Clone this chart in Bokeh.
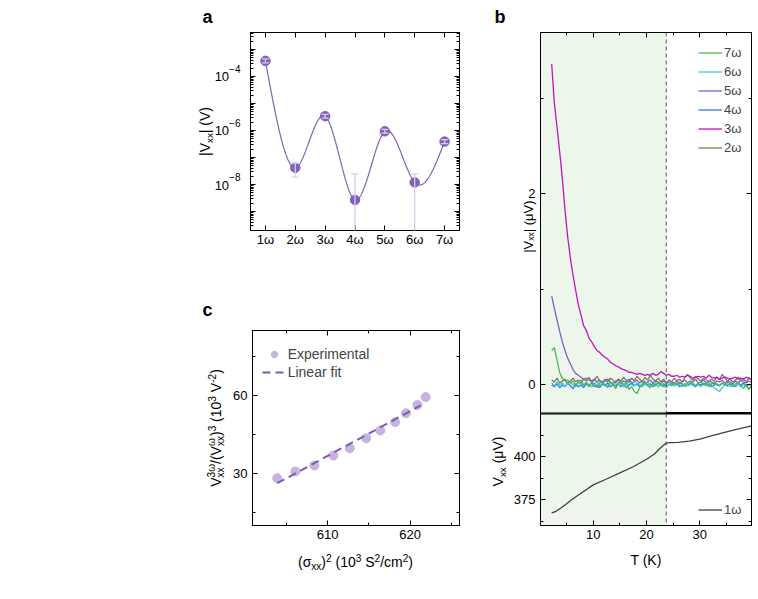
import numpy as np
from bokeh.plotting import figure
from bokeh.models import (Range1d, LinearAxis, LogAxis, FixedTicker, Label, Legend, LegendItem,
                          BoxAnnotation, Span, Whisker, TeeHead, ColumnDataSource, CustomJSTickFormatter)
from bokeh.layouts import row, column
from bokeh.embed import file_html
from bokeh.resources import INLINE

FONT = "Liberation Sans"

# ---------------- panel a data ----------------
harm_n = [1, 2, 3, 4, 5, 6, 7]
harm_labels = ["1ω", "2ω", "3ω", "4ω", "5ω", "6ω", "7ω"]
vxx_a = [3.8e-4, 4.2e-8, 3.4e-6, 2.7e-9, 9.4e-7, 1.2e-8, 3.9e-7]
err_lo_a = [3.2e-4, 1.9e-8, 2.9e-6, 1e-12, 8.0e-7, 1e-12, 3.3e-7]
err_hi_a = [4.5e-4, 6.2e-8, 4.0e-6, 2.5e-8, 1.1e-6, 2.5e-8, 4.6e-7]
a_ytick_exp = [-4, -6, -8]

# ---------------- panel c data ----------------
sigma2 = [603.9, 606.1, 608.4, 610.7, 612.7, 614.7, 616.4, 618.2, 619.5, 620.9, 621.9]
ratio = [28.3, 30.9, 33.2, 37.0, 39.8, 43.6, 46.6, 49.8, 53.2, 56.4, 59.4]
fit_x = [603.9, 621.3]
fit_y = [26.4, 56.2]

# ---------------- panel b data ----------------
T = np.round(np.arange(2.2, 39.71, 0.5), 2)
v3 = [3.36, 2.95, 2.70, 2.44, 2.16, 1.83, 1.55, 1.33, 1.15, 0.99,
      0.84, 0.73, 0.62, 0.57, 0.49, 0.45, 0.40, 0.36, 0.34, 0.31,
      0.29, 0.27, 0.24, 0.22, 0.20, 0.19, 0.17, 0.16, 0.15, 0.13,
      0.13, 0.12, 0.11, 0.12, 0.11, 0.10, 0.11, 0.10, 0.12, 0.10,
      0.11, 0.14, 0.12, 0.10, 0.11, 0.09, 0.09, 0.10, 0.08, 0.09,
      0.08, 0.10, 0.09, 0.07, 0.08, 0.09, 0.08, 0.09, 0.07, 0.10,
      0.08, 0.07, 0.08, 0.06, 0.07, 0.08, 0.07, 0.06, 0.07, 0.08,
      0.06, 0.07, 0.06, 0.08, 0.07, 0.06]
v5 = [0.93, 0.80, 0.68, 0.56, 0.45, 0.36, 0.28, 0.22, 0.16, 0.12,
      0.10, 0.08, 0.06, 0.07, 0.05, 0.04, 0.06, 0.03, 0.05, 0.02,
      0.04, 0.06, 0.03, 0.01, 0.04, 0.05, 0.02, 0.04, 0.03, 0.06,
      0.02, 0.03, 0.05, 0.02, 0.04, 0.01, 0.03, 0.05, 0.02, 0.04,
      0.03, 0.01, 0.04, 0.02, 0.05, 0.03, 0.02, 0.04, 0.01, 0.03,
      0.05, 0.02, 0.04, 0.03, 0.06, 0.02, 0.03, 0.05, 0.02, 0.04,
      0.03, 0.01, 0.04, 0.03, 0.05, 0.02, 0.04, 0.03, 0.01, 0.04,
      0.02, 0.05, 0.03, 0.02, 0.04, 0.03]
v7 = [0.36, 0.39, 0.26, 0.13, 0.07, 0.04, 0.05, 0.02, 0.04, -0.01,
      0.03, 0.05, 0.00, 0.02, -0.02, 0.03, 0.01, -0.03, 0.02, 0.04,
      0.00, -0.02, 0.03, 0.01, -0.04, 0.02, 0.04, 0.00, 0.03, -0.05,
      -0.02, -0.07, -0.09, -0.03, 0.01, 0.04, 0.00, -0.03, 0.02, -0.01,
      0.03, 0.00, -0.02, 0.01, 0.03, -0.01, 0.02, 0.00, 0.03, 0.01,
      -0.02, 0.02, 0.04, 0.01, -0.01, 0.02, 0.03, 0.00, 0.02, -0.02,
      0.01, 0.03, 0.00, -0.01, 0.02, 0.00, 0.03, 0.01, -0.02, 0.01,
      0.03, -0.01, -0.04, 0.00, -0.05, 0.00]
v2 = [0.05, 0.03, 0.07, 0.02, 0.04, 0.06, 0.01, 0.04, 0.07, 0.03,
      0.05, 0.02, 0.06, 0.04, 0.08, 0.03, 0.05, 0.09, 0.04, 0.02,
      0.06, 0.03, 0.07, 0.05, 0.02, 0.06, 0.04, 0.08, 0.05, 0.03,
      0.07, 0.04, 0.09, 0.06, 0.03, 0.08, 0.05, 0.10, 0.06, 0.04,
      0.07, 0.03, 0.06, 0.02, 0.05, 0.03, 0.07, 0.04, 0.06, 0.03,
      0.08, 0.11, 0.07, 0.05, 0.09, 0.06, 0.04, 0.07, 0.05, 0.03,
      0.06, 0.04, 0.08, 0.05, 0.11, 0.07, 0.04, 0.06, 0.03, 0.05,
      0.08, 0.04, 0.06, 0.03, 0.07, 0.05]
v4 = [0.00, -0.02, 0.01, -0.03, 0.00, -0.02, 0.02, -0.01, -0.04, 0.01,
      -0.02, 0.00, -0.03, 0.01, -0.01, 0.02, -0.02, 0.00, -0.03, 0.01,
      -0.01, 0.02, -0.02, 0.00, -0.01, 0.02, -0.02, 0.01, -0.03, 0.00,
      0.02, -0.01, 0.01, -0.02, 0.00, 0.02, -0.01, 0.01, -0.02, 0.00,
      0.02, -0.01, 0.01, -0.01, 0.00, 0.02, -0.01, 0.01, -0.02, 0.00,
      0.01, -0.01, 0.02, 0.00, -0.02, 0.01, 0.00, 0.02, -0.01, 0.01,
      -0.02, 0.00, 0.01, -0.01, 0.02, 0.00, -0.01, 0.01, 0.00, -0.02,
      0.01, 0.00, 0.02, -0.01, 0.00, 0.01]
v6 = [0.02, -0.01, 0.03, 0.00, 0.02, -0.02, 0.01, 0.03, 0.00, -0.02,
      0.02, 0.01, -0.01, 0.03, 0.00, -0.02, 0.01, 0.03, -0.01, 0.02,
      0.00, -0.03, 0.01, 0.02, -0.01, 0.00, 0.02, -0.02, 0.01, 0.03,
      0.00, -0.01, 0.02, 0.00, -0.02, 0.01, 0.03, -0.01, 0.00, 0.02,
      -0.02, 0.01, -0.01, -0.03, 0.00, 0.01, -0.01, 0.02, 0.00, -0.02,
      0.01, -0.01, 0.00, 0.02, -0.01, 0.00, -0.02, 0.01, -0.01, 0.02,
      0.00, -0.03, -0.05, -0.07, -0.03, 0.00, 0.01, -0.02, 0.00, -0.01,
      0.01, -0.02, 0.00, -0.01, -0.04, -0.02]
T1 = [2.2, 3, 4, 5, 6, 7.5, 10, 12.5, 15, 17.5, 20, 21.5, 22.5, 23.2, 23.7,
      24.5, 26, 28, 30, 32.5, 35, 37.5, 39.7]
v1 = [367.5, 368.4, 370.5, 372.8, 375.2, 378.4, 383.7, 387.1, 390.6, 394.2, 398.5, 401.6,
      404.8, 406.6, 407.9, 408.1, 408.3, 409.0, 410.2, 412.3, 414.4, 416.3, 417.8]
T_transition = 23.7

series_b = [("2ω", v2, "#7d7a58"), ("3ω", v3, "#c314c3"), ("4ω", v4, "#3b7be0"),
            ("5ω", v5, "#7f60c0"), ("6ω", v6, "#3cc8dc"), ("7ω", v7, "#4cb84c")]

# ---------------- helpers ----------------
W = {' ': 0.278, '(': 0.333, ')': 0.333, '|': 0.26, '/': 0.278, '-': 0.333, '−': 0.584,
     'V': 0.667, 'x': 0.5, 'ω': 0.78, 'σ': 0.617, 'S': 0.667, 'c': 0.5, 'm': 0.833,
     'K': 0.667, 'T': 0.611, 'μ': 0.576}
CORR = 0.32  # labels render slightly below their alphabetic anchor; lift them by this * size


def tw(s, size):
    return sum(W.get(ch, 0.556) for ch in s) * size


def add_rich(p, segs, x, y, size, angle=0.0, align="center", y_units="screen", y_off=0.0,
             small=0.7, sup_dy=5.5, sub_dy=-3.5, color="black"):
    ss = size * small
    placed = []
    adv = 0.0
    for seg in segs:
        if len(seg) == 3:
            sup, _, sub = seg
            placed.append((sup, adv, sup_dy, ss))
            placed.append((sub, adv, sub_dy, ss))
            adv += max(tw(sup, ss), tw(sub, ss))
        else:
            txt, kind = seg
            s = size if kind == "n" else ss
            dy = 0.0 if kind == "n" else (sup_dy if kind == "sup" else sub_dy)
            placed.append((txt, adv, dy, s))
            adv += tw(txt, s)
    start = {"left": 0.0, "center": -adv / 2.0, "right": -adv}[align]
    for txt, a, dy, s in placed:
        lead = len(txt) - len(txt.lstrip(" "))
        along = start + a + lead * W[" "] * s
        d = dy + CORR * s
        if angle == 0:
            xo, yo = along, y_off + d
        else:
            xo, yo = -d, y_off + along
        p.add_layout(Label(x=x, y=y, x_units="screen", y_units=y_units, x_offset=xo, y_offset=yo,
                           text=txt.strip(" "), text_font=FONT, text_font_size=f"{s:.1f}px",
                           text_align="left", text_baseline="alphabetic", angle=angle,
                           text_color=color))


def style_axis(ax, labels=True, standoff=5, size="13px"):
    ax.axis_line_color = "black"
    ax.axis_line_width = 1
    ax.major_tick_in = 5
    ax.major_tick_out = 0
    ax.minor_tick_in = 3
    ax.minor_tick_out = 0
    ax.major_tick_line_color = "black"
    ax.minor_tick_line_color = "black"
    ax.major_label_text_font = FONT
    ax.major_label_text_color = "black"
    ax.axis_label_text_font = FONT
    ax.axis_label_text_font_style = "normal"
    ax.axis_label_text_font_size = "14px"
    ax.axis_label_text_color = "black"
    if labels:
        ax.major_label_text_font_size = size
        ax.major_label_standoff = standoff
    else:
        ax.major_label_text_font_size = "0px"
        ax.major_label_standoff = 0
        ax.formatter = CustomJSTickFormatter(code="return ''")


def base_fig(**kw):
    p = figure(output_backend="svg", toolbar_location=None, **kw)
    p.xgrid.visible = False
    p.ygrid.visible = False
    p.outline_line_color = "black"
    p.outline_line_width = 1
    p.background_fill_color = "white"
    p.border_fill_color = "white"
    return p


def strip_fig(w, h, y_range=None, log=False):
    # text-only canvas whose frame fills the whole canvas
    kw = dict(width=w, height=h, x_range=Range1d(0, w),
              y_range=y_range if y_range is not None else Range1d(0, h),
              x_axis_location=None, y_axis_location=None,
              min_border=0, min_border_left=0, min_border_right=0,
              min_border_top=0, min_border_bottom=0,
              output_backend="svg", toolbar_location=None)
    if log:
        kw["y_axis_type"] = "log"
    p = figure(**kw)
    p.grid.visible = False
    p.outline_line_color = None
    p.background_fill_color = "white"
    p.border_fill_color = "white"
    return p


def panel_letter(p, txt, x, y):
    p.add_layout(Label(x=x, y=y, x_units="screen", y_units="screen", y_offset=CORR * 18,
                       text=txt, text_font=FONT,
                       text_font_size="18px", text_font_style="bold", text_align="left",
                       text_baseline="alphabetic", text_color="black"))


# ================= panel a =================
A_TOP, A_BOT, A_LOG_TOP, A_LOG_BOT, A_H = 32, 60, -2.37, -9.70, 290
fa = base_fig(width=244, height=A_H, x_range=Range1d(0.5, 7.5),
              y_range=Range1d(10 ** A_LOG_BOT, 10 ** A_LOG_TOP), y_axis_type="log",
              min_border_left=4, min_border_right=31, min_border_top=A_TOP, min_border_bottom=A_BOT)

dec_major = [10.0 ** k for k in range(-9, -2)]
dec_minor = [m * 10.0 ** k for k in range(-10, -2) for m in range(2, 10)]

xa = fa.xaxis[0]
xa.ticker = FixedTicker(ticks=harm_n)
xa.major_label_overrides = {n: lab for n, lab in zip(harm_n, harm_labels)}
style_axis(xa, labels=True, standoff=1)
ya = fa.yaxis[0]
ya.ticker = FixedTicker(ticks=dec_major, minor_ticks=dec_minor)
style_axis(ya, labels=False)
ta = LinearAxis(ticker=FixedTicker(ticks=harm_n))
style_axis(ta, labels=False)
fa.add_layout(ta, "above")
ra = LogAxis(ticker=FixedTicker(ticks=dec_major, minor_ticks=dec_minor))
style_axis(ra, labels=False)
fa.add_layout(ra, "right")

# natural cubic spline in log space through the points
xn = np.array(harm_n, dtype=float)
yn = np.log10(np.array(vxx_a))
nn = len(xn)
A = np.zeros((nn - 2, nn - 2))
rhs = np.zeros(nn - 2)
for i in range(1, nn - 1):
    A[i - 1, i - 1] = 4.0
    if i - 2 >= 0:
        A[i - 1, i - 2] = 1.0
    if i < nn - 2:
        A[i - 1, i] = 1.0
    rhs[i - 1] = 6.0 * (yn[i + 1] - 2 * yn[i] + yn[i - 1])
M = np.zeros(nn)
M[1:-1] = np.linalg.solve(A, rhs)
xs = np.linspace(xn[0], xn[-1], 400)
ys = np.zeros_like(xs)
for j, xv in enumerate(xs):
    i = min(int(np.floor(xv - xn[0])), nn - 2)
    t = xv - xn[i]
    ys[j] = (M[i] * (1 - t) ** 3 / 6 + M[i + 1] * t ** 3 / 6
             + (yn[i] - M[i] / 6) * (1 - t) + (yn[i + 1] - M[i + 1] / 6) * t)

purple = "#8062b6"
fa.line(xs, 10 ** ys, line_color=purple, line_width=1.2)
fa.scatter(harm_n, vxx_a, size=9.5, fill_color=purple, line_color=purple)
src_a = ColumnDataSource(dict(x=harm_n, lo=err_lo_a, hi=err_hi_a))
wh = Whisker(source=src_a, base="x", lower="lo", upper="hi", dimension="height",
             line_color="#d8cdea", line_width=1.3, level="annotation",
             upper_head=TeeHead(size=7, line_color="#d8cdea", line_width=1.3),
             lower_head=TeeHead(size=7, line_color="#d8cdea", line_width=1.3))
fa.add_layout(wh)

# label strip left of panel a: same vertical log scale as panel a, frame = whole canvas
pxdec = (A_H - A_TOP - A_BOT) / (A_LOG_TOP - A_LOG_BOT)
sa = strip_fig(246, A_H, y_range=Range1d(10 ** (A_LOG_BOT - A_BOT / pxdec),
                                          10 ** (A_LOG_TOP + A_TOP / pxdec)), log=True)
for k in a_ytick_exp:
    add_rich(sa, [("10", "n"), ("−%d" % (-k), "sup")], 240, 10.0 ** k, 13, align="right",
             y_units="data", y_off=-4.6, small=10 / 13, sup_dy=9)
add_rich(sa, [("|V", "n"), ("xx", "sub"), ("| (V)", "n")], 209, A_H - 131, 14, angle=np.pi / 2)
panel_letter(sa, "a", 202, A_H - 22)

# ================= panel c =================
fc = base_fig(width=260, height=260, x_range=Range1d(600.9, 626.0), y_range=Range1d(10.2, 84.9),
              min_border_left=22, min_border_right=31, min_border_top=40, min_border_bottom=25)
xc = fc.xaxis[0]
xc.ticker = FixedTicker(ticks=[610, 620], minor_ticks=[605, 615, 625])
style_axis(xc, labels=True, standoff=4)
yc = fc.yaxis[0]
yc.ticker = FixedTicker(ticks=[30, 60], minor_ticks=[15, 45, 75])
style_axis(yc, labels=True, standoff=5)
tc = LinearAxis(ticker=FixedTicker(ticks=[610, 620], minor_ticks=[605, 615, 625]))
style_axis(tc, labels=False)
fc.add_layout(tc, "above")
rc = LinearAxis(ticker=FixedTicker(ticks=[30, 60], minor_ticks=[15, 45, 75]))
style_axis(rc, labels=False)
fc.add_layout(rc, "right")

r_exp = fc.scatter(sigma2, ratio, size=9, fill_color="#c6b4de", line_color="#c6b4de")
r_fit = fc.line(fit_x, fit_y, line_color="#7a5cb2", line_width=2, line_dash="8 5")
leg_c = Legend(items=[LegendItem(label="Experimental", renderers=[r_exp]),
                      LegendItem(label="Linear fit", renderers=[r_fit])],
               location=(9.7, 145.3), padding=0, margin=0, spacing=2,
               glyph_width=24, glyph_height=16, label_height=16, label_standoff=2,
               label_text_font=FONT, label_text_font_size="14px",
               background_fill_alpha=0, border_line_alpha=0)
fc.add_layout(leg_c)

sc_left = strip_fig(230, 309)
add_rich(sc_left, [("V", "n"), ("3ω", "stack", "xx"), ("/(V", "n"), ("ω", "stack", "xx"), (")", "n"),
                   ("3", "sup"), (" (10", "n"), ("3", "sup"), (" V", "n"), ("-2", "sup"), (")", "n")],
         220, 309 - 137.5, 14, angle=np.pi / 2, small=0.72)
panel_letter(sc_left, "c", 202, 309 - 25.5)
# strip below panel c; its frame lines up with panel c's frame (x 252..459)
sc_bot = strip_fig(260, 49)
add_rich(sc_bot, [("(σ", "n"), ("xx", "sub"), (")", "n"), ("2", "sup"), (" (10", "n"), ("3", "sup"),
                  (" S", "n"), ("2", "sup"), ("/cm", "n"), ("2", "sup"), (")", "n")],
         103, 33, 14, small=0.72)

# ================= panel b (top) =================
sb = strip_fig(268, 30)
panel_letter(sb, "b", 4, 8)

xr_b = Range1d(0.1, 39.7)
fb1 = base_fig(width=268, height=383, x_range=xr_b, y_range=Range1d(-0.30, 3.69),
               x_axis_location=None,
               min_border_left=50, min_border_right=7, min_border_top=2, min_border_bottom=0)
yb1 = fb1.yaxis[0]
yb1.ticker = FixedTicker(ticks=[0, 2], minor_ticks=[1, 3])
style_axis(yb1, labels=True, standoff=5)
yb1.axis_label = "|Vₓₓ| (μV)\u00a0\u00a0"
yb1.axis_label_text_font_size = "13px"
yb1.axis_label_standoff = -11
tb1 = LinearAxis(ticker=FixedTicker(ticks=[10, 20, 30], minor_ticks=[5, 15, 25, 35]))
style_axis(tb1, labels=False)
fb1.add_layout(tb1, "above")
rb1 = LinearAxis(ticker=FixedTicker(ticks=[0, 2], minor_ticks=[1, 3]))
style_axis(rb1, labels=False)
fb1.add_layout(rb1, "right")

shade = "#edf6eb"
fb1.add_layout(BoxAnnotation(left=0.1, right=T_transition, fill_color=shade, fill_alpha=1,
                             line_alpha=0, level="underlay"))
fb1.add_layout(Span(location=T_transition, dimension="height", line_color="#555555",
                    line_width=1, line_dash="4 3"))
fb1.add_layout(Span(location=-0.30, dimension="width", line_color="black", line_width=2))
rend = {}
for name, vals, col in series_b:
    rend[name] = fb1.line(T, vals, line_color=col, line_width=1.3)
leg_b = Legend(items=[LegendItem(label=n, renderers=[rend[n]])
                      for n in ["7ω", "6ω", "5ω", "4ω", "3ω", "2ω"]],
               location=(158, 257.8), padding=0, margin=0, spacing=4,
               glyph_width=24, glyph_height=15, label_height=15, label_standoff=2,
               label_text_font=FONT, label_text_font_size="13px",
               background_fill_alpha=0, border_line_alpha=0)
fb1.add_layout(leg_b)

# ================= panel b (bottom) =================
fb2 = base_fig(width=249, height=186, x_range=xr_b, y_range=Range1d(360.2, 425),
               min_border_left=31, min_border_right=7, min_border_top=0, min_border_bottom=74)
xb2 = fb2.xaxis[0]
xb2.ticker = FixedTicker(ticks=[10, 20, 30], minor_ticks=[5, 15, 25, 35])
style_axis(xb2, labels=True, standoff=4)
xb2.axis_label = "T (K)"
xb2.axis_label_standoff = 10
yb2 = fb2.yaxis[0]
yb2.ticker = FixedTicker(ticks=[375, 400], minor_ticks=[362.5, 387.5, 412.5])
style_axis(yb2, labels=True, standoff=5)
rb2 = LinearAxis(ticker=FixedTicker(ticks=[375, 400], minor_ticks=[362.5, 387.5, 412.5]))
style_axis(rb2, labels=False)
fb2.add_layout(rb2, "right")
fb2.add_layout(BoxAnnotation(left=0.1, right=T_transition, fill_color=shade, fill_alpha=1,
                             line_alpha=0, level="underlay"))
fb2.add_layout(Span(location=T_transition, dimension="height", line_color="#555555",
                    line_width=1, line_dash="4 3"))
fb2.add_layout(Span(location=425, dimension="width", line_color="black", line_width=2))
r1 = fb2.line(T1, v1, line_color="#404040", line_width=1.3)
leg_b2 = Legend(items=[LegendItem(label="1ω", renderers=[r1])],
                location=(158, 8.2), padding=0, margin=0, spacing=0,
                glyph_width=24, glyph_height=15, label_height=15, label_standoff=2,
                label_text_font=FONT, label_text_font_size="13px",
                background_fill_alpha=0, border_line_alpha=0)
fb2.add_layout(leg_b2)

sb2 = strip_fig(19, 186)
add_rich(sb2, [("V", "n"), ("xx", "sub"), (" (μV)", "n")], 12, 186 - 48, 14, angle=np.pi / 2)

# strips wrapped in their own layouts so their frames are not aligned to the plots beside them
left = column(row(column(sa), fa), row(sc_left, column(fc, sc_bot)))
right = column(column(sb), fb1, row(column(sb2), fb2))
layout = row(left, right)
open("out.html", "w").write(file_html(layout, INLINE))
